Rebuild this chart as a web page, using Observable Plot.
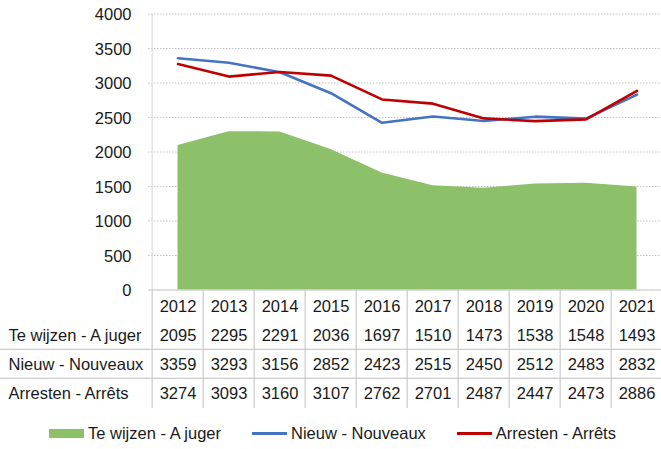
<!DOCTYPE html>
<html><head><meta charset="utf-8">
<script src="https://cdn.jsdelivr.net/npm/d3@7"></script>
<script src="https://cdn.jsdelivr.net/npm/@observablehq/plot@0.6"></script>
<style>
body{margin:0;background:#fff;font-family:"Liberation Sans",Arial,sans-serif;color:#1a1a1a;}
#chart svg{overflow:visible;position:relative;z-index:0;}
#table svg{position:relative;z-index:1;}
#legend{display:flex;justify-content:center;align-items:center;gap:31px;height:41px;padding-top:10px;box-sizing:border-box;font-size:16.5px;width:661px;padding-left:4px;}
.item{display:flex;align-items:center;gap:4px;}
.sw{width:35px;height:9px;}
.ln{width:35px;height:2.5px;}
</style></head><body>
<div id="chart"></div>
<div id="table"></div>
<div id="legend"></div>
<script>
const years = [2012, 2013, 2014, 2015, 2016, 2017, 2018, 2019, 2020, 2021];
const yTicks = [0, 500, 1000, 1500, 2000, 2500, 3000, 3500, 4000];
const juger = [2095, 2295, 2291, 2036, 1697, 1510, 1473, 1538, 1548, 1493];
const nieuw = [3359, 3293, 3156, 2852, 2423, 2515, 2450, 2512, 2483, 2832];
const arrets = [3274, 3093, 3160, 3107, 2762, 2701, 2487, 2447, 2473, 2886];
const seriesNames = ["Te wijzen - A juger", "Nieuw - Nouveaux", "Arresten - Arrêts"];
const colors = ["#8cc16a", "#4472c4", "#c00000"];

const W = 661;
const FS = 16.5;
const xRange = [148, 665];
const bw = (xRange[1] - xRange[0]) / years.length;
const yearStr = years.map(String);
const rows = years.map((y, i) => ({year: String(y), juger: juger[i], nieuw: nieuw[i], arrets: arrets[i]}));
const style = {fontSize: FS + "px", fontFamily: "'Liberation Sans', Arial, sans-serif", color: "#1a1a1a", overflow: "visible"};

const chart = Plot.plot({
  width: W, height: 290, marginLeft: 148, marginRight: 0, marginTop: 0, marginBottom: 0,
  style: {...style, background: "white"},
  x: {type: "band", domain: yearStr, range: xRange, padding: 0, axis: null},
  y: {domain: [0, 4000], range: [289.5, 13.5], axis: null},
  marks: [
    Plot.ruleY(yTicks.filter(d => d > 0), {stroke: "#c4c4c4", strokeDasharray: "1.5,1.5"}),
    Plot.areaY(rows, {x: "year", y: "juger", fill: colors[0]}),
    Plot.line(rows, {x: "year", y: "nieuw", stroke: colors[1], strokeWidth: 2.6}),
    Plot.line(rows, {x: "year", y: "arrets", stroke: colors[2], strokeWidth: 2.6}),
    Plot.ruleX([yearStr[0]], {x: d => d, dx: -bw / 2, y1: 0, y2: 4000, stroke: "#d9d9d9"}),
    Plot.ruleY([0], {stroke: "#bfbfbf"}),
    Plot.text(yTicks, {y: d => d, text: d => String(d), frameAnchor: "left", textAnchor: "end", dx: -17, dy: 1, fontSize: FS, fill: "#1a1a1a"})
  ]
});
document.getElementById("chart").appendChild(chart);

const rowKeys = ["header", ...seriesNames];
const seriesVals = [juger, nieuw, arrets];
const cells = years.flatMap((y, i) => [
  {year: String(y), row: "header", text: String(y)},
  ...seriesNames.map((s, k) => ({year: String(y), row: s, text: String(seriesVals[k][i])}))
]);
const TH = 118;
const bh = TH / rowKeys.length;

const table = Plot.plot({
  width: W, height: TH, marginLeft: 0, marginRight: 0, marginTop: 0, marginBottom: 0,
  style: {...style, background: "transparent"},
  x: {type: "band", domain: yearStr, range: xRange, padding: 0, axis: null},
  y: {type: "band", domain: rowKeys, range: [0, TH], padding: 0, axis: null},
  marks: [
    Plot.ruleX(yearStr, {x: d => d, dx: -bw / 2, stroke: "#bfbfbf"}),
    Plot.ruleY(seriesNames.slice(1), {y: d => d, dy: -bh / 2, stroke: "#bfbfbf"}),
    Plot.text(cells, {x: "year", y: "row", text: "text", fill: "#1a1a1a", dy: 1, fontSize: FS}),
    Plot.text(seriesNames, {y: d => d, text: d => d, frameAnchor: "left", dx: 8, dy: 1, textAnchor: "start", fill: "#1a1a1a", fontSize: FS})
  ]
});
document.getElementById("table").appendChild(table);

const legend = document.getElementById("legend");
seriesNames.forEach((s, k) => {
  const it = document.createElement("div");
  it.className = "item";
  const sw = document.createElement("div");
  sw.className = k === 0 ? "sw" : "ln";
  sw.style.background = colors[k];
  const t = document.createElement("span");
  t.textContent = s;
  it.appendChild(sw); it.appendChild(t);
  legend.appendChild(it);
});
</script>
</body></html>
